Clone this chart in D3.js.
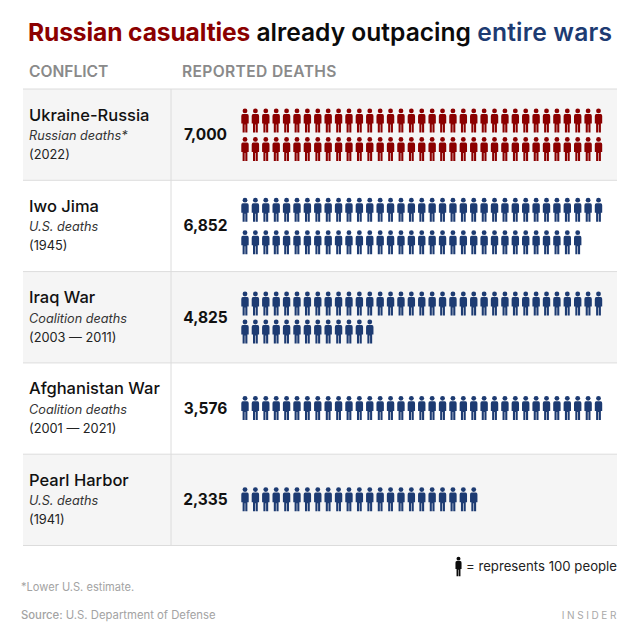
<!DOCTYPE html>
<html>
<head>
<meta charset="utf-8">
<script src="https://cdnjs.cloudflare.com/ajax/libs/d3/7.8.5/d3.min.js"></script>
<style>
body { margin: 0; background: #fff; }
text { font-family: Inter, "Noto Sans", sans-serif; }
</style>
</head>
<body>
<div id="chart-area"></div>
<script>
/* Data */
var conflicts = ["Ukraine-Russia", "Iwo Jima", "Iraq War", "Afghanistan War", "Pearl Harbor"];
var groups = ["Russian deaths*", "U.S. deaths", "Coalition deaths", "Coalition deaths", "U.S. deaths"];
var years = ["(2022)", "(1945)", "(2003 — 2011)", "(2001 — 2021)", "(1941)"];
var deaths = [7000, 6852, 4825, 3576, 2335];
var perIcon = 100;
var perLine = 35;

var red = "#8b0000";
var blue = "#1d3b72";
var rowFill = ["#f5f5f5", "#ffffff"];

/* Icon line centres inside a row, the two-line rows are not spaced alike */
var lineCentres = [[31.5, 60], [29.5, 62], [32, 60], [45], [45]];

var svg = d3.select("#chart-area").append("svg")
	.attr("width", 640)
	.attr("height", 640)
	.style("display", "block");

/* Scales */
var rowY = d3.scaleBand().domain(conflicts).range([89, 545.5]);
var iconX = d3.scaleLinear().domain([0, perLine - 1]).range([245, 598.5]);

/* Title */
var title = svg.append("text")
	.attr("x", 28)
	.attr("y", 41)
	.attr("font-size", 24.6)
	.attr("font-weight", 700);
title.append("tspan").attr("fill", red).attr("letter-spacing", -0.13).text("Russian casualties");
title.append("tspan").attr("fill", "#0b0b0b").attr("font-weight", 600).text(" already outpacing ");
title.append("tspan").attr("fill", blue).attr("font-weight", 600).attr("letter-spacing", 0.22).text("entire wars");

/* Column headers */
svg.append("text").attr("x", 29).attr("y", 77)
	.attr("font-size", 15.6).attr("font-weight", 600).attr("fill", "#8a8a8a").text("CONFLICT");
svg.append("text").attr("x", 182).attr("y", 77)
	.attr("font-size", 15.6).attr("font-weight", 600).attr("letter-spacing", 0.35).attr("fill", "#8a8a8a").text("REPORTED DEATHS");

/* Table rows */
var rows = svg.selectAll("g.row")
	.data(conflicts)
	.enter().append("g")
	.attr("class", "row")
	.attr("transform", function(d) { return "translate(0," + rowY(d) + ")"; });

rows.append("rect")
	.attr("x", 23)
	.attr("y", 0)
	.attr("width", 594)
	.attr("height", rowY.bandwidth())
	.attr("fill", function(d, i) { return rowFill[i % 2]; });

rows.append("line")
	.attr("x1", 23).attr("x2", 617)
	.attr("y1", 0).attr("y2", 0)
	.attr("stroke", "#dcdcdc");

rows.append("text")
	.attr("x", 29).attr("y", 31.5)
	.attr("font-size", 16.5).attr("font-weight", 500).attr("fill", "#111")
	.text(function(d) { return d; });

rows.append("text")
	.attr("x", 29).attr("y", 51)
	.attr("font-size", 12.7).attr("font-style", "italic").attr("fill", "#333")
	.text(function(d, i) { return groups[i]; });

rows.append("text")
	.attr("x", 29).attr("y", 70)
	.attr("font-size", 12.8).attr("fill", "#222")
	.text(function(d, i) { return years[i]; });

rows.append("text")
	.attr("x", 205.5).attr("y", 51)
	.attr("text-anchor", "middle")
	.attr("font-size", 15.5).attr("font-weight", 700).attr("fill", "#111")
	.text(function(d, i) { return d3.format(",")(deaths[i]); });

svg.append("line")
	.attr("x1", 23).attr("x2", 617)
	.attr("y1", 545.5).attr("y2", 545.5)
	.attr("stroke", "#dcdcdc");

svg.append("line")
	.attr("x1", 171).attr("x2", 171)
	.attr("y1", 89).attr("y2", 545.5)
	.attr("stroke", "#dcdcdc");

/* One person, centred on 0,0, about 7.4 wide and 24 tall */
function person(sel, color) {
	sel.append("circle").attr("cx", 0).attr("cy", -9.6).attr("r", 2.4).attr("fill", color);
	sel.append("path")
		.attr("d", "M-2.2,-6.6 H2.2 Q3.7,-6.6 3.7,-4.6 V3 H2.4 V12 H0.3 V4 H-0.3 V12 H-2.4 V3 H-3.7 V-4.6 Q-3.7,-6.6 -2.2,-6.6 Z")
		.attr("fill", color);
}

/* Pictogram */
rows.each(function(d, i) {
	var count = Math.floor(deaths[i] / perIcon);
	d3.select(this).selectAll("g.icon")
		.data(d3.range(count))
		.enter().append("g")
		.attr("class", "icon")
		.attr("transform", function(n) {
			var col = n % perLine;
			var line = Math.floor(n / perLine);
			return "translate(" + iconX(col) + "," + lineCentres[i][line] + ")";
		})
		.each(function() { person(d3.select(this), i == 0 ? red : blue); });
});

/* Key */
var key = svg.append("g").attr("transform", "translate(458.5,566.5) scale(0.82)");
person(key, "#0b0b0b");
svg.append("text")
	.attr("x", 617).attr("y", 571)
	.attr("text-anchor", "end")
	.attr("font-size", 13.2).attr("fill", "#222")
	.text("= represents 100 people");

/* Footer */
svg.append("text").attr("x", 21).attr("y", 591)
	.attr("font-size", 11.1).attr("fill", "#a3a3a3").text("*Lower U.S. estimate.");
var source = svg.append("text").attr("x", 21).attr("y", 619)
	.attr("font-size", 11.3).attr("fill", "#a3a3a3");
source.append("tspan").attr("font-weight", 500).text("Source:");
source.append("tspan").text(" U.S. Department of Defense");
svg.append("text").attr("x", 619).attr("y", 619)
	.attr("text-anchor", "end")
	.attr("font-size", 10).attr("letter-spacing", 2.6).attr("fill", "#a8a8a8")
	.text("INSIDER");
</script>
</body>
</html>
